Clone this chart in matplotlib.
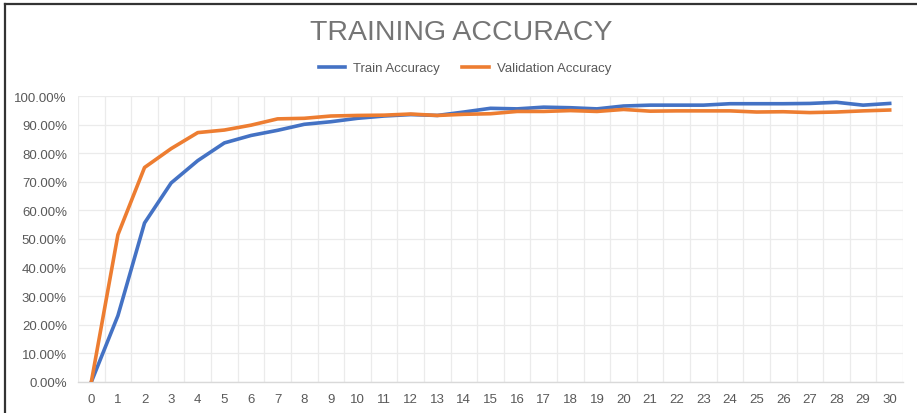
import numpy as np
import matplotlib
matplotlib.use("Agg")
from matplotlib import pyplot as plt
from matplotlib.lines import Line2D
from matplotlib.ticker import FuncFormatter

epochs = list(range(31))
train_acc = [0.0, 23.2, 55.6, 69.6, 77.4, 83.6, 86.2, 88.0, 90.1, 91.0,
             92.2, 93.0, 93.5, 93.2, 94.4, 95.7, 95.5, 96.1, 95.9, 95.5,
             96.5, 96.8, 96.8, 96.8, 97.3, 97.3, 97.3, 97.4, 97.8, 96.8,
             97.4]
val_acc = [0.0, 51.5, 75.0, 81.6, 87.2, 88.1, 89.8, 92.0, 92.2, 93.0,
           93.2, 93.3, 93.7, 93.2, 93.6, 93.8, 94.6, 94.6, 94.9, 94.6,
           95.3, 94.7, 94.8, 94.8, 94.8, 94.4, 94.5, 94.2, 94.4, 94.8,
           95.1]

plt.rcParams['font.family'] = ['Liberation Sans', 'DejaVu Sans']
text_col = '#595959'
blue = '#4472C4'
orange = '#ED7D31'

fig = plt.figure(figsize=(9.17, 4.14), dpi=100)
ax = fig.add_axes([78 / 917, 1 - 383 / 414, 825 / 917, 286 / 414])

ax.plot(epochs, np.array(train_acc) / 100, color=blue, lw=2.6,
        solid_joinstyle='round', zorder=3)
ax.plot(epochs, np.array(val_acc) / 100, color=orange, lw=2.6,
        solid_joinstyle='round', zorder=3)

ax.set_xlim(-0.5, 30.5)
ax.set_ylim(0, 1.0)
ax.set_xticks(epochs)
ax.set_xticks(np.arange(-0.5, 31, 1), minor=True)
ax.set_yticks(np.arange(0, 1.01, 0.1))
ax.yaxis.set_major_formatter(FuncFormatter(lambda v, p: f"{v * 100:.2f}%"))

ax.grid(which='minor', axis='x', color='#ebebeb', lw=0.9)
ax.grid(which='major', axis='y', color='#ebebeb', lw=0.9)
ax.tick_params(which='both', length=0)
ax.tick_params(axis='y', labelsize=9.5, labelcolor=text_col, pad=8)
ax.tick_params(axis='x', labelsize=9.5, labelcolor=text_col, pad=8)
for s in ['top', 'right', 'left']:
    ax.spines[s].set_visible(False)
ax.spines['bottom'].set_color('#d9d9d9')
ax.spines['bottom'].set_linewidth(1.0)

fig.text(461 / 917, 1 - 33 / 414, 'TRAINING ACCURACY', ha='center',
         va='center', fontsize=20.5, color='#757575')

handles = [Line2D([], [], color=blue, lw=2.6),
           Line2D([], [], color=orange, lw=2.6)]
fig.legend(handles, ['Train Accuracy', 'Validation Accuracy'],
           loc='center', bbox_to_anchor=(465 / 917, 1 - 69 / 414), ncol=2,
           frameon=False, fontsize=9.5, labelcolor=text_col,
           handlelength=2.0, columnspacing=1.7, handletextpad=0.6)

# screenshot frame on top and left edges
fig.add_artist(Line2D([5 / 917, 1], [1 - 5 / 414, 1 - 5 / 414],
                      color='#333333', lw=1.6))
fig.add_artist(Line2D([5 / 917, 5 / 917], [0, 1 - 5 / 414],
                      color='#333333', lw=1.6))

fig.savefig('out.png', dpi=100)
